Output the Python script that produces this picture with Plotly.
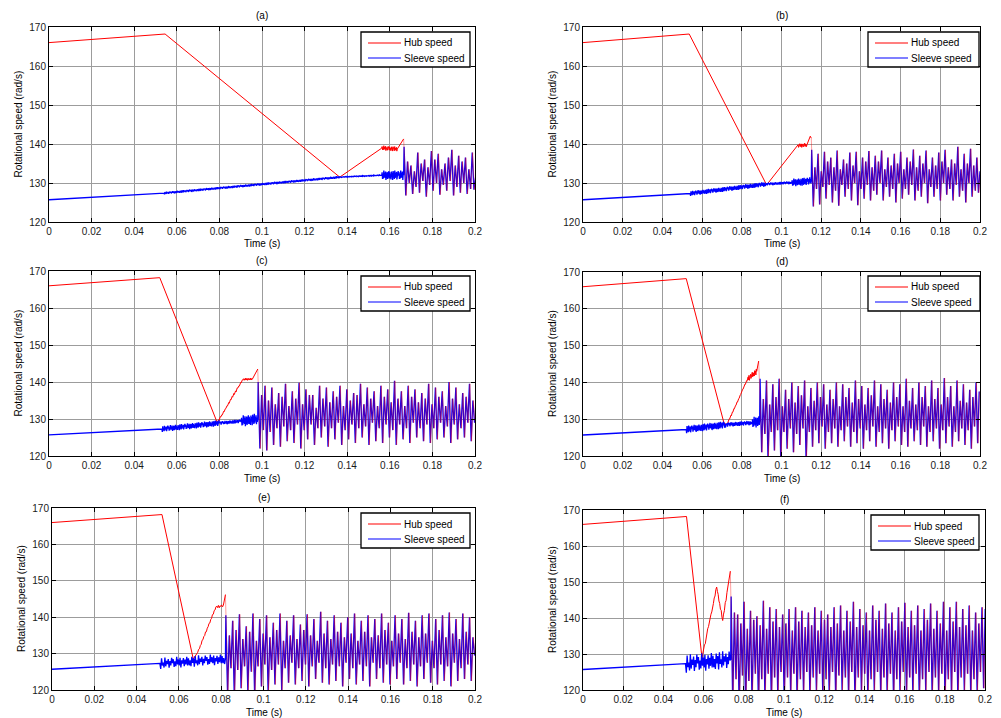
import numpy as np
import plotly.graph_objects as go

# ---------------- data ----------------
PANELS = ["(a)", "(b)", "(c)", "(d)", "(e)", "(f)"]
SERIES = ["Hub speed", "Sleeve speed"]
X_TICKS = [0, 0.02, 0.04, 0.06, 0.08, 0.1, 0.12, 0.14, 0.16, 0.18, 0.2]
X_TICK_TEXT = ["0", "0.02", "0.04", "0.06", "0.08", "0.1", "0.12", "0.14", "0.16", "0.18", "0.2"]
Y_TICKS = [120, 130, 140, 150, 160, 170]

# small hand-typed texture used for the noisy bands
JIT = [0.6, -0.7, 0.2, -0.9, 0.8, -0.3, 0.5, -1.0, 0.9, -0.4, 0.1, -0.8, 1.0, -0.6,
       0.4, -0.2, 0.7, -0.9, 0.3, -0.5, 0.9, -0.1, 0.6, -0.8, 0.2, -0.7, 1.0, -0.4,
       0.5, -0.6, 0.8, -1.0, 0.3, -0.3, 0.7, -0.8, 0.4, -0.5, 0.9, -0.7]

# engagement times
ENG = [0.1665, 0.115, 0.098, 0.089, 0.082, 0.0735]

# hub speed knots (time, value) and noise amplitude on each interval
A_HUB_T = [0, 0.0545, 0.1365, 0.156, 0.1635, 0.1665]
A_HUB_V = [166.0, 168.2, 131.5, 139.0, 138.7, 141.3]
A_HUB_N = [0, 0, 0, 0.6, 0]
B_HUB_T = [0, 0.0535, 0.0925, 0.108, 0.1128, 0.1145, 0.115]
B_HUB_V = [166.0, 168.2, 129.5, 139.5, 139.8, 142.0, 141.5]
B_HUB_N = [0, 0, 0, 0.5, 0, 0]
C_HUB_T = [0, 0.052, 0.079, 0.091, 0.0955, 0.098]
C_HUB_V = [166.0, 168.2, 129.0, 140.7, 140.8, 143.5]
C_HUB_N = [0, 0, 0.3, 0.3, 0]
D_HUB_T = [0, 0.052, 0.071, 0.0725, 0.083, 0.0875, 0.0885]
D_HUB_V = [166.0, 168.2, 129.0, 128.5, 141.0, 143.0, 145.8]
D_HUB_N = [0, 0, 0, 0.2, 0.8, 0]
E_HUB_T = [0, 0.052, 0.0668, 0.0685, 0.0775, 0.081, 0.082]
E_HUB_V = [166.0, 168.2, 128.5, 129.8, 142.8, 143.2, 146.2]
E_HUB_N = [0, 0, 0, 0.3, 0.4, 0]
F_HUB_T = [0, 0.0515, 0.0592, 0.0665, 0.0695, 0.0733]
F_HUB_V = [166.0, 168.2, 128.9, 148.6, 139.3, 153.0]
F_HUB_N = [0, 0, 0.5, 0.5, 0.5]

# sleeve speed knots before engagement
A_SLV_T = [0, 0.054, 0.1365, 0.156, 0.1665]
A_SLV_V = [125.7, 127.4, 131.5, 132.0, 132.0]
A_SLV_N = [0, 0.3, 0.1, 1.2]
B_SLV_T = [0, 0.054, 0.092, 0.105, 0.115]
B_SLV_V = [125.7, 127.3, 129.7, 130.1, 130.5]
B_SLV_N = [0, 0.6, 0.35, 1.0]
C_SLV_T = [0, 0.053, 0.08, 0.09, 0.098]
C_SLV_V = [125.7, 127.3, 128.9, 129.4, 130.0]
C_SLV_N = [0, 0.8, 0.5, 1.5]
D_SLV_T = [0, 0.052, 0.072, 0.085, 0.089]
D_SLV_V = [125.7, 127.2, 128.5, 129.0, 129.5]
D_SLV_N = [0, 1.0, 0.6, 1.5]
E_SLV_T = [0, 0.051, 0.082]
E_SLV_V = [125.7, 127.3, 128.5]
E_SLV_N = [0, 1.5]
F_SLV_T = [0, 0.051, 0.0735]
F_SLV_V = [125.7, 127.3, 128.5]
F_SLV_N = [0, 2.5]

# post-engagement oscillation extrema (one value every 0.8 ms)
A_OSC = [139.3, 126.8, 135.5, 130.0, 134.5, 127.2, 133.0, 129.0, 137.8, 127.5, 135.0, 130.5,
         136.0, 126.5, 134.0, 129.5, 138.2, 128.0, 136.0, 130.0, 137.5, 127.0, 133.5, 129.5,
         135.0, 128.0, 136.5, 130.5, 138.5, 126.8, 134.5, 129.0, 137.0, 127.5, 135.5, 130.0,
         136.5, 127.2, 133.5, 128.5, 137.8, 128.3, 131.5]
B_OSC = [138.5, 124.0, 134.0, 128.5, 137.5, 124.5, 133.0, 129.0, 138.0, 126.0, 135.5, 129.5,
         136.5, 125.0, 134.0, 128.0, 138.3, 124.2, 133.5, 129.5, 136.0, 126.5, 135.0, 128.5,
         137.8, 125.5, 134.5, 130.0, 138.0, 124.3, 133.0, 128.5, 136.5, 126.0, 135.5, 129.5,
         138.2, 125.5, 134.0, 128.0, 137.0, 127.0, 135.5, 130.0, 138.3, 125.5, 133.5, 129.0,
         136.5, 126.5, 134.5, 128.5, 137.5, 125.0, 135.0, 130.0, 138.0, 126.0, 133.5, 128.5,
         136.5, 127.0, 135.5, 129.5, 138.6, 125.5, 134.0, 128.0, 137.0, 126.5, 135.0, 130.0,
         138.3, 124.8, 133.5, 129.0, 136.5, 126.5, 134.5, 128.5, 137.8, 125.5, 135.5, 130.0,
         138.5, 127.0, 134.0, 128.5, 136.0, 125.5, 135.0, 129.5, 139.3, 126.5, 133.5, 128.0,
         137.5, 125.0, 135.0, 130.0, 138.8, 126.5, 134.5, 128.0, 136.5, 127.5, 133.0]
C_OSC = [140.0, 122.0, 136.5, 127.0, 139.0, 121.5, 135.0, 126.5, 138.5, 123.0, 134.0, 127.5,
         137.0, 122.5, 136.0, 128.0, 139.5, 124.0, 133.5, 127.0, 137.5, 123.5, 135.5, 128.5,
         139.8, 122.0, 134.0, 127.0, 138.0, 124.5, 136.5, 128.5, 136.5, 123.0, 133.0, 127.5,
         139.0, 125.0, 135.5, 128.0, 138.5, 122.5, 134.5, 127.5, 137.5, 124.5, 136.0, 129.0,
         139.0, 123.0, 133.5, 127.0, 138.0, 124.5, 135.0, 128.5, 137.0, 123.5, 136.5, 127.5,
         139.5, 125.0, 134.0, 128.0, 138.5, 123.0, 135.5, 129.0, 137.5, 124.0, 133.5, 127.5,
         139.0, 123.5, 136.0, 128.5, 138.0, 125.0, 134.5, 127.0, 140.3, 123.0, 135.5, 128.5,
         137.5, 124.5, 133.5, 127.5, 139.0, 123.5, 136.0, 129.0, 138.0, 125.0, 134.5, 127.5,
         137.0, 124.0, 135.5, 128.5, 139.5, 123.5, 134.0, 127.5, 138.5, 124.5, 136.0, 129.0,
         137.5, 125.0, 133.5, 128.0, 140.0, 123.5, 135.5, 128.5, 138.5, 124.5, 134.0, 127.5,
         137.0, 125.0, 136.0, 129.0, 139.5, 124.0, 135.0, 129.0]
D_OSC = [141.0, 121.0, 135.5, 126.0, 140.5, 119.0, 134.0, 126.5, 139.5, 121.5, 136.0, 127.0,
         141.0, 119.5, 133.5, 126.5, 138.0, 122.0, 135.5, 127.5, 140.0, 121.0, 134.5, 126.0,
         139.0, 123.0, 136.5, 127.5, 140.5, 118.5, 133.5, 126.5, 138.5, 122.5, 135.0, 127.0,
         140.0, 123.5, 136.0, 128.0, 139.5, 122.0, 134.0, 126.5, 138.0, 123.5, 135.5, 127.5,
         140.0, 122.5, 133.5, 127.0, 139.5, 124.0, 136.0, 128.0, 138.5, 122.5, 134.5, 126.5,
         140.5, 123.5, 135.5, 127.5, 139.0, 122.0, 134.0, 127.0, 138.5, 124.0, 136.5, 128.0,
         140.5, 122.5, 133.5, 126.5, 139.5, 123.5, 135.5, 127.5, 138.0, 122.0, 134.5, 127.0,
         140.0, 124.0, 136.0, 128.0, 139.5, 123.0, 133.5, 126.5, 141.0, 122.5, 135.0, 127.5,
         138.5, 124.0, 134.0, 127.0, 140.0, 123.0, 136.0, 128.0, 139.0, 122.5, 133.5, 126.5,
         140.5, 124.0, 135.5, 127.5, 138.5, 122.0, 134.0, 127.0, 141.2, 123.5, 136.0, 128.0,
         139.0, 122.5, 133.5, 126.5, 140.5, 124.0, 135.0, 127.5, 139.5, 123.0, 134.5, 127.0,
         138.0, 122.0, 136.0, 128.0, 140.0, 123.5, 137.5]
E_OSC = [140.5, 119.0, 135.0, 126.0, 139.0, 118.0, 136.5, 125.5, 140.8, 120.5, 134.0, 126.5,
         137.5, 119.5, 136.0, 125.0, 141.0, 118.5, 133.5, 126.5, 139.5, 121.0, 135.5, 127.0,
         140.5, 119.0, 134.5, 125.5, 138.5, 121.5, 136.5, 127.0, 141.0, 120.0, 133.5, 126.0,
         139.0, 122.0, 135.0, 127.5, 140.5, 121.5, 134.0, 126.0, 138.0, 122.5, 136.5, 127.0,
         140.8, 121.0, 135.0, 126.5, 139.5, 123.0, 133.5, 127.5, 141.5, 122.0, 135.5, 126.0,
         139.0, 121.5, 134.0, 127.0, 140.5, 122.5, 136.0, 126.5, 138.5, 121.0, 134.5, 127.5,
         140.0, 123.0, 135.5, 126.0, 141.0, 121.5, 133.5, 127.0, 139.0, 122.5, 136.0, 126.5,
         140.5, 121.0, 134.5, 127.5, 139.5, 123.0, 135.0, 126.0, 141.0, 122.0, 136.5, 127.0,
         138.5, 121.5, 133.5, 126.5, 140.5, 123.0, 135.5, 127.5, 139.5, 121.5, 134.0, 126.0,
         141.2, 122.5, 136.0, 127.0, 139.0, 121.0, 134.5, 126.5, 140.5, 123.0, 135.5, 127.5,
         141.0, 122.0, 133.5, 126.0, 139.5, 121.5, 136.5, 127.0, 140.5, 122.5, 134.5, 126.5,
         141.3, 121.0, 135.5, 127.5, 139.5, 122.5, 134.0, 126.0, 141.0, 123.0, 136.0, 127.0,
         140.0, 122.5, 134.5, 129.5]
F_OSC = [146.0, 116.0, 141.5, 123.0, 141.0, 115.0, 138.5, 124.0, 144.5, 114.5, 137.0, 122.5,
         142.0, 117.0, 139.5, 124.5, 140.5, 115.5, 138.0, 123.0, 144.8, 118.0, 137.0, 124.5,
         143.0, 116.5, 139.0, 123.5, 142.5, 118.5, 137.5, 125.0, 141.0, 117.0, 138.5, 123.5,
         142.5, 119.0, 136.5, 124.5, 143.0, 117.5, 139.0, 123.0, 142.0, 119.5, 137.5, 125.0,
         141.5, 118.0, 138.0, 123.5, 143.0, 120.0, 136.5, 124.5, 142.0, 118.5, 139.5, 123.0,
         141.0, 119.0, 137.5, 125.0, 143.0, 117.5, 138.5, 124.0, 143.5, 120.0, 136.5, 123.5,
         142.0, 118.5, 139.0, 125.0, 144.5, 117.0, 137.5, 123.5, 142.5, 119.5, 138.0, 124.5,
         141.5, 118.0, 136.5, 123.0, 143.5, 120.0, 139.5, 125.0, 142.0, 118.5, 137.0, 123.5,
         144.0, 119.0, 138.5, 124.5, 141.5, 117.5, 136.5, 123.0, 143.0, 120.0, 139.0, 125.0,
         144.2, 118.5, 137.5, 123.5, 142.0, 119.0, 138.0, 124.5, 143.5, 117.5, 136.5, 123.0,
         142.5, 120.0, 139.5, 125.0, 144.0, 118.5, 137.0, 123.5, 142.0, 119.5, 138.5, 124.5,
         144.5, 118.0, 136.5, 123.0, 143.0, 119.0, 139.0, 125.0, 144.5, 117.5, 137.5, 123.5,
         142.5, 120.0, 138.0, 124.5, 143.5, 118.5, 136.5, 123.0, 141.5, 119.0, 138.5, 125.0,
         143.0, 120.5, 142.5]

HUB = [(A_HUB_T, A_HUB_V, A_HUB_N), (B_HUB_T, B_HUB_V, B_HUB_N), (C_HUB_T, C_HUB_V, C_HUB_N),
       (D_HUB_T, D_HUB_V, D_HUB_N), (E_HUB_T, E_HUB_V, E_HUB_N), (F_HUB_T, F_HUB_V, F_HUB_N)]
SLV = [(A_SLV_T, A_SLV_V, A_SLV_N), (B_SLV_T, B_SLV_V, B_SLV_N), (C_SLV_T, C_SLV_V, C_SLV_N),
       (D_SLV_T, D_SLV_V, D_SLV_N), (E_SLV_T, E_SLV_V, E_SLV_N), (F_SLV_T, F_SLV_V, F_SLV_N)]
OSC = [A_OSC, B_OSC, C_OSC, D_OSC, E_OSC, F_OSC]
OSC_STEP = 0.0008

# ---------------- layout geometry (pixels of the 1001x718 page) ----------------
W, H = 1001, 718
BOXES = [  # left, right, top, bottom
    (49, 475, 27, 222), (583, 980, 27, 222),
    (49, 475, 271, 456), (583, 980, 272, 456),
    (52, 475, 508, 690), (583, 985, 510, 690),
]
LEGENDS = [(361, 470, 32), (868, 979, 32), (361, 470, 276),
           (868, 980, 276), (361, 470, 513), (871, 979, 515)]  # left, right, top

FONT = "Liberation Sans, Arial, Helvetica, sans-serif"
RED = "#ff0000"
BLUE = "#0000ff"
HUB_OVER = "rgba(255,0,0,0.38)"


def path(ts, vs, ns, step=0.0002):
    out_t, out_v = [ts[0]], [vs[0]]
    for i in range(len(ts) - 1):
        t0, t1, v0, v1, a = ts[i], ts[i + 1], vs[i], vs[i + 1], ns[i]
        if a > 0:
            n = max(2, int(round((t1 - t0) / step)))
            tt = np.linspace(t0, t1, n + 1)[1:]
            vv = np.linspace(v0, v1, n + 1)[1:]
            for k in range(n):
                j = JIT[(k + 7 * i) % len(JIT)] if k < n - 1 else 0.0
                out_t.append(tt[k])
                out_v.append(vv[k] + a * j)
        else:
            out_t.append(t1)
            out_v.append(v1)
    return out_t, out_v


def px(x):
    return x / W


def py(y):
    return 1 - y / H


fig = go.Figure()
annotations = []
shapes = []
layout = dict(width=W, height=H, margin=dict(l=0, r=0, t=0, b=0),
              paper_bgcolor="white", plot_bgcolor="white", showlegend=False,
              font=dict(family=FONT, size=10, color="black"),
              annotations=annotations, shapes=shapes)


def text(s, x, y, size=10, angle=0, xanchor="center"):
    annotations.append(dict(text=s, x=px(x), y=py(y), xref="paper", yref="paper",
                            xanchor=xanchor, yanchor="middle", showarrow=False,
                            textangle=angle, font=dict(size=size, family=FONT, color="black")))


for p in range(6):
    L, R, T, B = BOXES[p]
    xs = "" if p == 0 else str(p + 1)
    xa, ya = "x" + xs, "y" + xs
    eng = ENG[p]
    osc = OSC[p]
    step = 0.0004 if p >= 4 else 0.0002

    ht, hv = path(*HUB[p], step=step)
    st, sv = path(*SLV[p], step=step)
    o_t = [eng + 0.0002 + i * OSC_STEP for i in range(len(osc))]
    # hub after engagement follows the sleeve oscillation (small lag)
    h2t = [ht[-1]] + [t + 0.0002 for t in o_t[1:]]
    h2v = [hv[-1]] + osc[1:]
    st = st + o_t
    sv = sv + osc

    fig.add_trace(go.Scatter(x=ht, y=hv, mode="lines", name=SERIES[0],
                             line=dict(color=RED, width=1), xaxis=xa, yaxis=ya))
    fig.add_trace(go.Scatter(x=st, y=sv, mode="lines", name=SERIES[1],
                             line=dict(color=BLUE, width=1.3), xaxis=xa, yaxis=ya))
    fig.add_trace(go.Scatter(x=h2t, y=h2v, mode="lines", name=SERIES[0],
                             line=dict(color=HUB_OVER, width=1.0), xaxis=xa, yaxis=ya))

    ax_common = dict(showline=True, linecolor="black", linewidth=1, mirror="ticks",
                     ticks="inside", ticklen=4, tickcolor="black",
                     showgrid=True, gridcolor="#9c9c9c", gridwidth=1,
                     zeroline=False, tickfont=dict(size=10, color="#1a1a1a", family=FONT),
                     automargin=False, fixedrange=True)
    layout["xaxis" + xs] = dict(ax_common, domain=[px(L), px(R)], anchor=ya,
                                range=[0, 0.2], tickvals=X_TICKS, ticktext=X_TICK_TEXT)
    layout["yaxis" + xs] = dict(ax_common, domain=[py(B), py(T)], anchor=xa,
                                range=[120, 170], tickvals=Y_TICKS)

    # legend box
    gl, gr, gt = LEGENDS[p]
    gb = gt + 35
    shapes.append(dict(type="rect", xref="paper", yref="paper", x0=px(gl), x1=px(gr),
                       y0=py(gb), y1=py(gt), line=dict(color="black", width=1.3),
                       fillcolor="white", layer="above"))
    for k, (name, col) in enumerate([(SERIES[0], RED), (SERIES[1], BLUE)]):
        yy = gt + 11 + 15 * k
        shapes.append(dict(type="line", xref="paper", yref="paper", x0=px(gl + 7),
                           x1=px(gl + 40), y0=py(yy), y1=py(yy),
                           line=dict(color=col, width=1.2), layer="above"))
        text(name, gl + 41, yy, size=10, xanchor="left")

    cx = (L + R) / 2
    text(PANELS[p], cx, T - 11, size=10)
    text("Time (s)", cx, B + 22, size=10)
    text("Rotational speed (rad/s)", L - 31, (T + B) / 2, size=10, angle=-90)

fig.update_layout(**layout)
fig.write_html("out.html", config={"displayModeBar": False},
               post_script="document.body.style.margin='0px';")
